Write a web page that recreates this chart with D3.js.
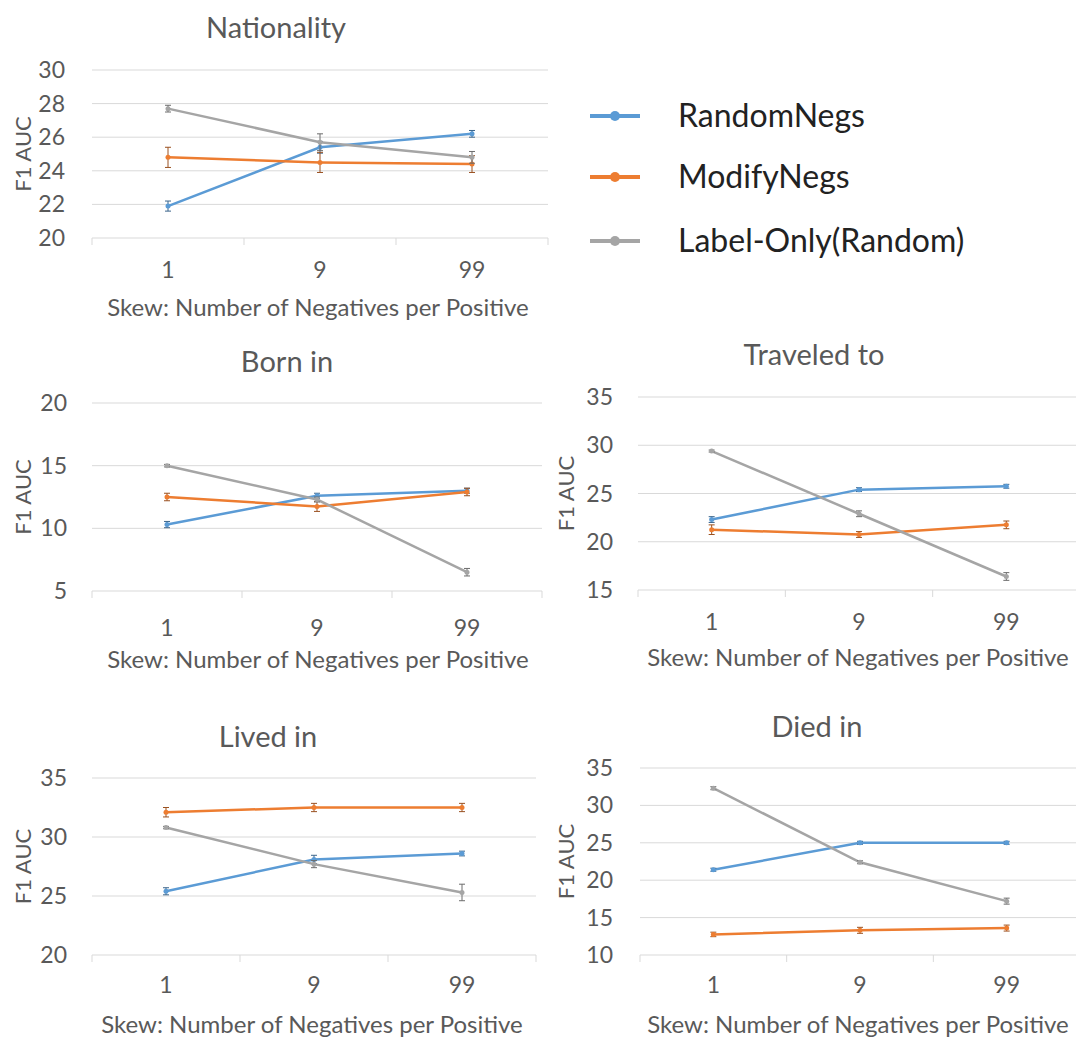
<!DOCTYPE html>
<html>
<head>
<meta charset="utf-8">
<script src="https://cdn.jsdelivr.net/npm/d3@7"></script>
<style>
  body { margin: 0; background: #fff; }
  text { font-family: Lato, "Open Sans", sans-serif; }
</style>
</head>
<body>
<svg id="chart" width="1076" height="1038"></svg>
<script>
// categories on the x axis
var skews = ['1', '9', '99'];
var seriesNames = ['RandomNegs', 'ModifyNegs', 'Label-Only(Random)'];
var seriesColors = ['#5b9bd5', '#ed7d31', '#a5a5a5'];

// values: [mean, error]
var nationalityRandom = [[21.9, 0.3], [25.4, 0.35], [26.2, 0.2]];
var nationalityModify = [[24.8, 0.6], [24.5, 0.6], [24.4, 0.5]];
var nationalityLabel = [[27.7, 0.2], [25.7, 0.5], [24.8, 0.35]];

var bornRandom = [[10.3, 0.25], [12.6, 0.2], [13.0, 0.2]];
var bornModify = [[12.5, 0.3], [11.75, 0.4], [12.9, 0.3]];
var bornLabel = [[15.0, 0.1], [12.3, 0.2], [6.5, 0.3]];

var traveledRandom = [[22.3, 0.3], [25.4, 0.2], [25.75, 0.2]];
var traveledModify = [[21.25, 0.5], [20.75, 0.3], [21.75, 0.4]];
var traveledLabel = [[29.4, 0.1], [22.9, 0.3], [16.4, 0.4]];

var livedRandom = [[25.4, 0.3], [28.1, 0.35], [28.6, 0.2]];
var livedModify = [[32.1, 0.4], [32.5, 0.35], [32.5, 0.35]];
var livedLabel = [[30.8, 0.1], [27.7, 0.3], [25.3, 0.7]];

var diedRandom = [[21.4, 0.2], [25.0, 0.2], [25.0, 0.2]];
var diedModify = [[12.75, 0.3], [13.3, 0.4], [13.6, 0.4]];
var diedLabel = [[32.3, 0.2], [22.4, 0.2], [17.2, 0.4]];

var nationalityTicks = [20, 22, 24, 26, 28, 30];
var bornTicks = [5, 10, 15, 20];
var traveledTicks = [15, 20, 25, 30, 35];
var livedTicks = [20, 25, 30, 35];
var diedTicks = [10, 15, 20, 25, 30, 35];

var panels = [
  { title: 'Nationality', series: [nationalityRandom, nationalityModify, nationalityLabel], ticks: nationalityTicks,
    x0: 92, x1: 548, yTop: 70, yBot: 238, titleX: 276, titleY: 28, tickY: 270, xlabY: 308, xlabX: 318, ylabX: 23, tickX: 65 },
  { title: 'Born in', series: [bornRandom, bornModify, bornLabel], ticks: bornTicks,
    x0: 92, x1: 542, yTop: 403, yBot: 591, titleX: 287, titleY: 362, tickY: 628, xlabY: 660, xlabX: 318, ylabX: 23, tickX: 67 },
  { title: 'Traveled to', series: [traveledRandom, traveledModify, traveledLabel], ticks: traveledTicks,
    x0: 638, x1: 1080, yTop: 397, yBot: 590, titleX: 814, titleY: 355, tickY: 622, xlabY: 658, xlabX: 858, ylabX: 566, tickX: 613 },
  { title: 'Lived in', series: [livedRandom, livedModify, livedLabel], ticks: livedTicks,
    x0: 92, x1: 536, yTop: 778, yBot: 955, titleX: 268, titleY: 737, tickY: 985, xlabY: 1025, xlabX: 312, ylabX: 23, tickX: 67 },
  { title: 'Died in', series: [diedRandom, diedModify, diedLabel], ticks: diedTicks,
    x0: 640, x1: 1080, yTop: 768, yBot: 955, titleX: 817, titleY: 727, tickY: 985, xlabY: 1025, xlabX: 858, ylabX: 566, tickX: 613 }
];

var textColor = '#595959';

var svg = d3.select('#chart');
svg.append('rect').attr('width', 1076).attr('height', 1038).attr('fill', '#fff');

panels.forEach(function(p) {
  var g = svg.append('g');

  var xScale = d3.scaleBand().domain(skews).range([p.x0, p.x1]);
  var yScale = d3.scaleLinear()
    .domain(d3.extent(p.ticks))
    .range([p.yBot, p.yTop]);

  // gridlines
  g.selectAll('.grid')
    .data(p.ticks)
    .enter()
    .append('line')
    .attr('x1', p.x0)
    .attr('x2', p.x1)
    .attr('y1', d => yScale(d))
    .attr('y2', d => yScale(d))
    .attr('stroke', '#d9d9d9')
    .attr('stroke-width', 1);

  // y tick labels
  g.selectAll('.ytick')
    .data(p.ticks)
    .enter()
    .append('text')
    .attr('x', p.tickX)
    .attr('y', d => yScale(d))
    .attr('dy', '0.35em')
    .attr('text-anchor', 'end')
    .attr('fill', textColor)
    .style('font-size', '23px')
    .text(d => d);

  // category separators under the baseline
  var bounds = [p.x0].concat(skews.map(s => xScale(s) + xScale.bandwidth()));
  g.selectAll('.sep')
    .data(bounds)
    .enter()
    .append('line')
    .attr('x1', d => d)
    .attr('x2', d => d)
    .attr('y1', p.yBot)
    .attr('y2', p.yBot + 7)
    .attr('stroke', '#d9d9d9');

  // x tick labels
  g.selectAll('.xtick')
    .data(skews)
    .enter()
    .append('text')
    .attr('x', d => xScale(d) + xScale.bandwidth() / 2)
    .attr('y', p.tickY)
    .attr('dy', '0.35em')
    .attr('text-anchor', 'middle')
    .attr('fill', textColor)
    .style('font-size', '23px')
    .text(d => d);

  // axis titles
  g.append('text')
    .attr('x', p.xlabX)
    .attr('y', p.xlabY)
    .attr('dy', '0.35em')
    .attr('text-anchor', 'middle')
    .attr('fill', textColor)
    .style('font-size', '24px')
    .text('Skew: Number of Negatives per Positive');

  g.append('text')
    .attr('transform', `translate(${p.ylabX}, ${(p.yTop + p.yBot) / 2}) rotate(-90)`)
    .attr('dy', '0.35em')
    .attr('text-anchor', 'middle')
    .attr('fill', textColor)
    .style('font-size', '22px')
    .text('F1 AUC');

  g.append('text')
    .attr('x', p.titleX)
    .attr('y', p.titleY)
    .attr('dy', '0.35em')
    .attr('text-anchor', 'middle')
    .attr('fill', textColor)
    .style('font-size', '29px')
    .text(p.title);

  var line = d3.line()
    .x((d, i) => xScale(skews[i]) + xScale.bandwidth() / 2)
    .y(d => yScale(d[0]));

  p.series.forEach(function(values, si) {
    var color = seriesColors[si];
    var barColor = d3.color(color).darker(1.2);
    var sg = g.append('g');

    sg.append('path')
      .datum(values)
      .attr('d', line)
      .attr('fill', 'none')
      .attr('stroke', color)
      .attr('stroke-width', 2.5);

    var pts = sg.selectAll('.pt')
      .data(values)
      .enter()
      .append('g')
      .attr('transform', (d, i) => `translate(${xScale(skews[i]) + xScale.bandwidth() / 2}, 0)`);

    pts.append('line')
      .attr('x1', 0).attr('x2', 0)
      .attr('y1', d => yScale(d[0] - d[1]))
      .attr('y2', d => yScale(d[0] + d[1]))
      .attr('stroke', barColor)
      .attr('stroke-width', 1);
    pts.append('line')
      .attr('x1', -3).attr('x2', 3)
      .attr('y1', d => yScale(d[0] - d[1]))
      .attr('y2', d => yScale(d[0] - d[1]))
      .attr('stroke', barColor);
    pts.append('line')
      .attr('x1', -3).attr('x2', 3)
      .attr('y1', d => yScale(d[0] + d[1]))
      .attr('y2', d => yScale(d[0] + d[1]))
      .attr('stroke', barColor);
    pts.append('circle')
      .attr('cy', d => yScale(d[0]))
      .attr('r', 2.5)
      .attr('fill', color);
  });
});

// legend
var legendY = [116, 177, 241];
var legend = svg.append('g');
seriesNames.forEach(function(name, i) {
  legend.append('line')
    .attr('x1', 590).attr('x2', 640)
    .attr('y1', legendY[i]).attr('y2', legendY[i])
    .attr('stroke', seriesColors[i])
    .attr('stroke-width', 4);
  legend.append('circle')
    .attr('cx', 615).attr('cy', legendY[i])
    .attr('r', 5)
    .attr('fill', seriesColors[i]);
  legend.append('text')
    .attr('x', 678)
    .attr('y', legendY[i])
    .attr('dy', '0.35em')
    .attr('fill', '#222')
    .style('font-size', '32px')
    .text(name);
});
</script>
</body>
</html>
